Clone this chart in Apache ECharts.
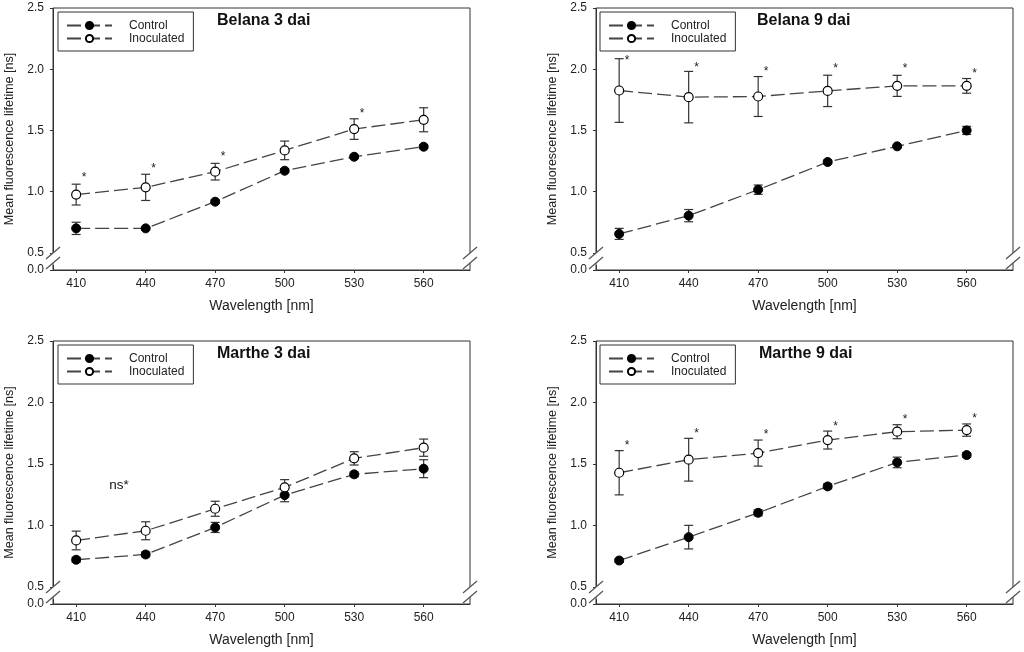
<!DOCTYPE html>
<html><head><meta charset="utf-8">
<script src="https://cdn.jsdelivr.net/npm/echarts@6.0.0/dist/echarts.min.js"></script>
<style>html,body{margin:0;padding:0;background:#fff}#c{width:1024px;height:652px}</style>
</head><body><div id="c"></div>
<script>
// ---------- data ----------
const wavelengths = [410, 440, 470, 500, 530, 560];
const xTickValues = [410, 440, 470, 500, 530, 560];
const yTickValues = [0, 0.5, 1.0, 1.5, 2.0, 2.5];
const panelTitles = ['Belana 3 dai', 'Belana 9 dai', 'Marthe 3 dai', 'Marthe 9 dai'];
const seriesNames = ['Control', 'Inoculated'];

const belana3Control    = [0.700, 0.700, 0.918, 1.171, 1.285, 1.367];
const belana3ControlErr = [0.050, 0.012, 0.015, 0.015, 0.015, 0.015];
const belana3Inoc       = [0.976, 1.035, 1.163, 1.337, 1.511, 1.587];
const belana3InocErr    = [0.085, 0.107, 0.068, 0.076, 0.084, 0.098];
const belana3Stars      = [1.147, 1.223, 1.315, null, 1.671, null];

const belana9Control    = [0.655, 0.804, 1.016, 1.242, 1.370, 1.500];
const belana9ControlErr = [0.045, 0.050, 0.038, 0.015, 0.010, 0.033];
const belana9Inoc       = [1.826, 1.772, 1.777, 1.823, 1.864, 1.864];
const belana9InocErr    = [0.260, 0.210, 0.163, 0.128, 0.086, 0.060];
const belana9Stars      = [2.103, 2.043, 2.014, 2.035, 2.038, 2.000];

const marthe3Control    = [0.720, 0.763, 0.983, 1.246, 1.415, 1.461];
const marthe3ControlErr = [0.020, 0.020, 0.041, 0.054, 0.020, 0.073];
const marthe3Inoc       = [0.877, 0.956, 1.135, 1.309, 1.545, 1.632];
const marthe3InocErr    = [0.076, 0.073, 0.061, 0.063, 0.054, 0.070];
const marthe3Stars      = [null, null, null, null, null, null];
const marthe3NoteText   = 'ns*';
const marthe3NotePos    = [428.5, 1.33];

const marthe9Control    = [0.714, 0.904, 1.102, 1.317, 1.512, 1.572];
const marthe9ControlErr = [0.015, 0.096, 0.025, 0.020, 0.043, 0.020];
const marthe9Inoc       = [1.428, 1.534, 1.588, 1.694, 1.762, 1.775];
const marthe9InocErr    = [0.180, 0.174, 0.106, 0.073, 0.057, 0.050];
const marthe9Stars      = [1.680, 1.775, 1.767, 1.838, 1.892, 1.903];

const panels = [
  {ctrl: belana3Control, ctrlErr: belana3ControlErr, inoc: belana3Inoc, inocErr: belana3InocErr, stars: belana3Stars},
  {ctrl: belana9Control, ctrlErr: belana9ControlErr, inoc: belana9Inoc, inocErr: belana9InocErr, stars: belana9Stars},
  {ctrl: marthe3Control, ctrlErr: marthe3ControlErr, inoc: marthe3Inoc, inocErr: marthe3InocErr, stars: marthe3Stars},
  {ctrl: marthe9Control, ctrlErr: marthe9ControlErr, inoc: marthe9Inoc, inocErr: marthe9InocErr, stars: marthe9Stars}
];

// ---------- layout / style ----------
const FONT = 'Liberation Sans, Arial, sans-serif';
const layout = [
  {left: 53,  right: 554, top: 8,   bottom: 382, titleLeft: 217, titleTop: 13,  legLeft: 58,  legTop: 12},
  {left: 596, right: 11,  top: 8,   bottom: 382, titleLeft: 757, titleTop: 13,  legLeft: 600, legTop: 12},
  {left: 53,  right: 554, top: 341, bottom: 48,  titleLeft: 217, titleTop: 346, legLeft: 58,  legTop: 345},
  {left: 596, right: 11,  top: 341, bottom: 48,  titleLeft: 759, titleTop: 346, legLeft: 600, legTop: 345}
];
const AXIS_COLOR = '#333';
const LINE_COLOR = '#444';
const DASH = [14, 5];

function errRender(params, api) {
  const x = api.value(0), lo = api.value(1), hi = api.value(2);
  const pLo = api.coord([x, lo]), pHi = api.coord([x, hi]);
  const w = 4.5;
  const st = {stroke: '#333', lineWidth: 1.2};
  return {type: 'group', children: [
    {type: 'line', shape: {x1: pLo[0], y1: pLo[1], x2: pHi[0], y2: pHi[1]}, style: st},
    {type: 'line', shape: {x1: pHi[0]-w, y1: pHi[1], x2: pHi[0]+w, y2: pHi[1]}, style: st},
    {type: 'line', shape: {x1: pLo[0]-w, y1: pLo[1], x2: pLo[0]+w, y2: pLo[1]}, style: st}
  ]};
}
function starRender(params, api) {
  const p = api.coord([api.value(0), api.value(1)]);
  return {type: 'text', x: p[0] + 8, y: p[1] + 4, style: {text: '*', fill: '#222', font: '12px ' + FONT, align: 'center', verticalAlign: 'middle'}};
}
function noteRender(params, api) {
  const p = api.coord([api.value(0), api.value(1)]);
  return {type: 'text', x: p[0], y: p[1], style: {text: marthe3NoteText, fill: '#111', font: '13.5px ' + FONT, align: 'center', verticalAlign: 'middle'}};
}

const grid = [], xAxis = [], yAxis = [], series = [], title = [], legend = [];
panels.forEach((pd, i) => {
  const L = layout[i];
  grid.push({left: L.left, right: L.right, top: L.top, bottom: L.bottom, show: true, borderColor: AXIS_COLOR, borderWidth: 1, backgroundColor: 'transparent'});
  xAxis.push({
    type: 'value', gridIndex: i, min: 400, max: 580,
    name: 'Wavelength [nm]', nameLocation: 'middle', nameGap: 29,
    nameTextStyle: {fontSize: 14, color: '#222', fontFamily: FONT},
    axisLine: {show: true, lineStyle: {color: AXIS_COLOR, width: 1}},
    axisTick: {show: true, length: 3, customValues: xTickValues, lineStyle: {color: AXIS_COLOR}},
    axisLabel: {customValues: xTickValues, fontSize: 12, color: '#222', fontFamily: FONT, margin: 8},
    splitLine: {show: false}
  });
  yAxis.push({
    type: 'value', gridIndex: i, min: 0, max: 2.5, interval: 0.5,
    breaks: [{start: 0.04, end: 0.46, gap: 0.06}],
    breakArea: {show: false},
    name: 'Mean fluorescence lifetime [ns]', nameLocation: 'middle', nameGap: 37,
    nameTextStyle: {fontSize: 12.5, color: '#222', fontFamily: FONT},
    axisLine: {show: true, lineStyle: {color: AXIS_COLOR, width: 1}},
    axisTick: {show: true, length: 3, customValues: yTickValues, lineStyle: {color: AXIS_COLOR}},
    axisLabel: {customValues: yTickValues, fontSize: 12, color: '#222', fontFamily: FONT, margin: 9, formatter: v => v.toFixed(1)},
    splitLine: {show: false}
  });
  title.push({text: panelTitles[i], left: L.titleLeft, top: L.titleTop, padding: 0,
    textStyle: {fontSize: 16, fontWeight: 'bold', color: '#111', fontFamily: FONT}});
  legend.push({
    data: seriesNames, orient: 'vertical', left: L.legLeft, top: L.legTop,
    itemWidth: 45, itemHeight: 9, itemGap: 0, padding: [7, 9, 6, 8],
    borderColor: AXIS_COLOR, borderWidth: 1, selectedMode: false,
    textStyle: {fontSize: 12, color: '#222', fontFamily: FONT, lineHeight: 13, padding: [0, 0, 0, 12]}
  });
  const ctrlErr = wavelengths.map((w, k) => [w, pd.ctrl[k] - pd.ctrlErr[k], pd.ctrl[k] + pd.ctrlErr[k]]);
  const inocErr = wavelengths.map((w, k) => [w, pd.inoc[k] - pd.inocErr[k], pd.inoc[k] + pd.inocErr[k]]);
  series.push({type: 'custom', xAxisIndex: i, yAxisIndex: i, renderItem: errRender, data: ctrlErr, z: 1, silent: true});
  series.push({type: 'custom', xAxisIndex: i, yAxisIndex: i, renderItem: errRender, data: inocErr, z: 1, silent: true});
  series.push({
    name: 'Control', type: 'line', xAxisIndex: i, yAxisIndex: i, z: 3,
    data: wavelengths.map((w, k) => [w, pd.ctrl[k]]),
    symbol: 'circle', symbolSize: 9, showAllSymbol: true,
    itemStyle: {color: '#000', borderColor: '#000', borderWidth: 1},
    lineStyle: {color: LINE_COLOR, width: 1.3, type: DASH}, animation: false
  });
  series.push({
    name: 'Inoculated', type: 'line', xAxisIndex: i, yAxisIndex: i, z: 3,
    data: wavelengths.map((w, k) => [w, pd.inoc[k]]),
    symbol: 'circle', symbolSize: 9, showAllSymbol: true,
    itemStyle: {color: '#fff', borderColor: '#000', borderWidth: 1.2},
    lineStyle: {color: LINE_COLOR, width: 1.3, type: DASH}, animation: false
  });
  const starData = wavelengths.map((w, k) => [w, pd.stars[k]]).filter(d => d[1] != null);
  series.push({type: 'custom', xAxisIndex: i, yAxisIndex: i, renderItem: starRender, data: starData, z: 4, silent: true});
});
series.push({type: 'custom', xAxisIndex: 2, yAxisIndex: 2, renderItem: noteRender, data: [marthe3NotePos], z: 4, silent: true});

const chart = echarts.init(document.getElementById('c'), null, {renderer: 'canvas'});
chart.setOption({animation: false, textStyle: {fontFamily: FONT}, grid, xAxis, yAxis, series, title, legend});

// axis break marks ("//") on left and right frame edges
const graphics = [];
panels.forEach((pd, i) => {
  const f = {xAxisIndex: i, yAxisIndex: i};
  [400, 580].forEach(xv => {
    const p0 = chart.convertToPixel(f, [xv, 0]);
    const x = p0[0];
    const yUp = p0[1] - 17, yLo = p0[1] - 7;   // centres of the two slashes
    const hw = 7, hh = 6;
    graphics.push({type: 'polygon', z: 100, shape: {points: [[x-hw, yUp+hh], [x+hw, yUp-hh], [x+hw, yLo-hh], [x-hw, yLo+hh]]}, style: {fill: '#fff'}});
    graphics.push({type: 'line', z: 101, shape: {x1: x-hw, y1: yUp+hh, x2: x+hw, y2: yUp-hh}, style: {stroke: '#555', lineWidth: 1.3}});
    graphics.push({type: 'line', z: 101, shape: {x1: x-hw, y1: yLo+hh, x2: x+hw, y2: yLo-hh}, style: {stroke: '#555', lineWidth: 1.3}});
  });
});
chart.setOption({graphic: graphics});
</script></body></html>
